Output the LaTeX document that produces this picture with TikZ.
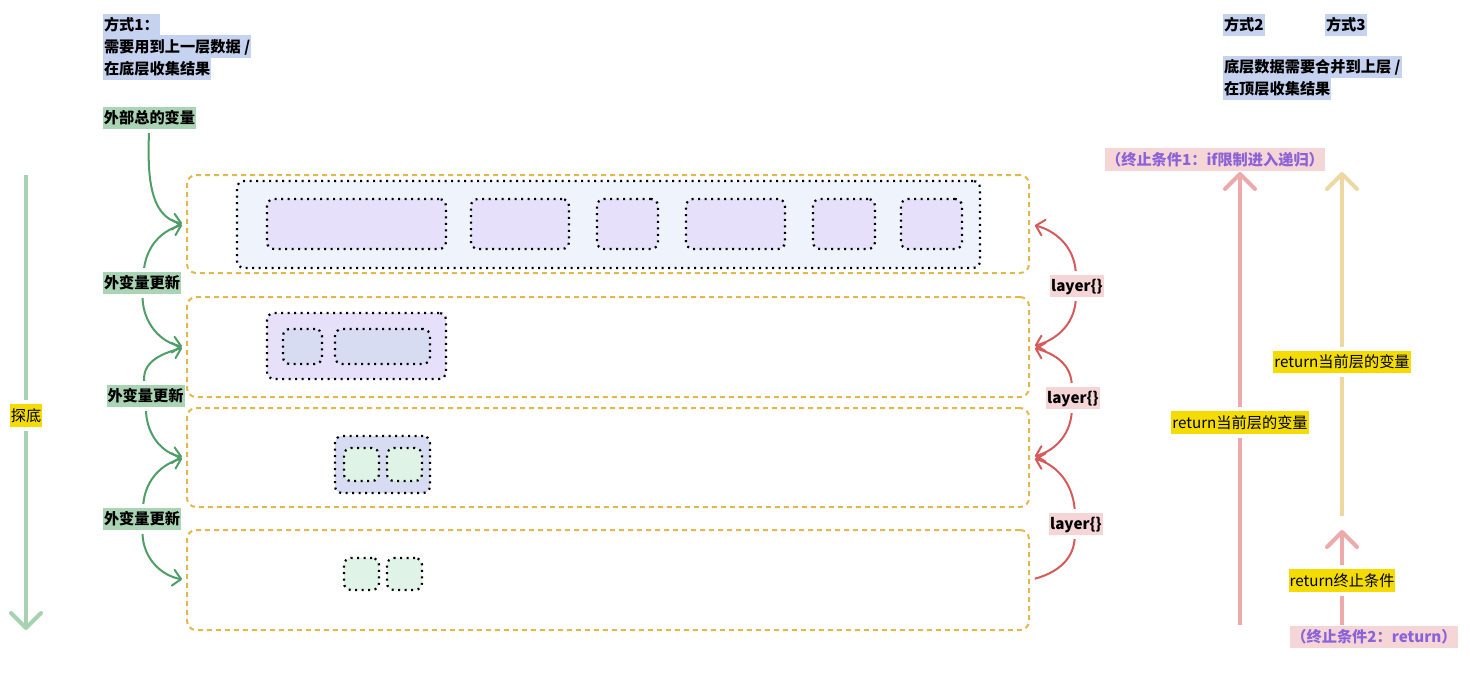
\documentclass[tikz,border=0pt]{standalone}
\usepackage{fontspec}
\setmainfont{Noto Sans CJK SC}
\usetikzlibrary{arrows.meta,positioning}
\definecolor{bluebg}{HTML}{C6D3F0}
\definecolor{greenbg}{HTML}{A9D5B5}
\definecolor{yellowbg}{HTML}{F4DC00}
\definecolor{pinkbg}{HTML}{F6D5D7}
\definecolor{purpletx}{HTML}{8A63D8}
\definecolor{framec}{HTML}{E1B84B}
\definecolor{topfill}{HTML}{EFF3FB}
\definecolor{lavfill}{HTML}{E7E0FA}
\definecolor{bluefill}{HTML}{D7DCF3}
\definecolor{greenfill}{HTML}{DFF3E6}
\definecolor{greenln}{HTML}{4F9E68}
\definecolor{redln}{HTML}{D65A5A}
\definecolor{paleg}{HTML}{A6D2B0}
\definecolor{palep}{HTML}{EDAAAA}
\definecolor{paley}{HTML}{ECD8A0}

\begin{document}
\begin{tikzpicture}[x=1pt, y=-1pt, >={Straight Barb[round,length=8pt,width=16pt]},
  every node/.style={font=\fontsize{15.2pt}{18pt}\selectfont\bfseries, inner xsep=1pt, inner ysep=4pt, text height=12.8pt, text depth=1.4pt},
  note/.style={fill=bluebg, anchor=west, outer sep=0pt},
  tag/.style={fill=greenbg, outer sep=4pt},
  ret/.style={fill=pinkbg, outer sep=4pt},
  hilite/.style={fill=yellowbg, outer sep=4pt, font=\fontsize{15.2pt}{18pt}\selectfont},
  stop/.style={fill=pinkbg, text=purpletx},
  frame/.style={draw=framec, line width=2pt, dash pattern=on 5pt off 4pt, rounded corners=9pt, minimum width=842pt},
  dots/.style={draw=black, line width=2.2pt, dash pattern=on 2pt off 4.5pt, rounded corners=7pt}]
  \useasboundingbox (0,0) rectangle (1470,675);

  \node[note] (t1) at (103,25) {方式1：};
  \node[note] (t2) at (103,46.5) {需要用到上一层数据 /};
  \node[note] (t3) at (103,68.5) {在底层收集结果};
  \node[note] (m2) at (1223,25) {方式2};
  \node[note] (m3) at (1325,25) {方式3};
  \node[note] (r1) at (1223,67) {底层数据需要合并到上层 /};
  \node[note] (r2) at (1223,89) {在顶层收集结果};

  \node[frame, minimum height=98pt] (l1) at (608,224) {};
  \node[frame, minimum height=100pt] (l2) at (608,347) {};
  \node[frame, minimum height=99pt] (l3) at (608,457.5) {};
  \node[frame, minimum height=100pt] (l4) at (608,580) {};

  \begin{scope}[every node/.append style={dots}]
    \node[fill=topfill, minimum width=743pt, minimum height=87pt] (o1) at (608.5,224.5) {};
    \node[fill=lavfill, minimum width=179pt, minimum height=50pt] (a1) at (356.5,224) {};
    \node[fill=lavfill, minimum width=98pt, minimum height=50pt] (a2) at (520,224) {};
    \node[fill=lavfill, minimum width=61pt, minimum height=50pt] (a3) at (627.5,224) {};
    \node[fill=lavfill, minimum width=99pt, minimum height=50pt] (a4) at (735.5,224) {};
    \node[fill=lavfill, minimum width=62pt, minimum height=50pt] (a5) at (844,224) {};
    \node[fill=lavfill, minimum width=61pt, minimum height=50pt] (a6) at (931.5,224) {};
    \node[fill=lavfill, minimum width=179pt, minimum height=66pt] (o2) at (356.5,346) {};
    \node[fill=bluefill, minimum width=39pt, minimum height=35pt] (b1) at (302.5,346.5) {};
    \node[fill=bluefill, minimum width=95pt, minimum height=35pt] (b2) at (382.5,346.5) {};
    \node[fill=bluefill, minimum width=95pt, minimum height=57pt] (o3) at (382.5,464.5) {};
    \node[fill=greenfill, minimum width=35pt, minimum height=33pt] (c1) at (361.5,464.5) {};
    \node[fill=greenfill, minimum width=35pt, minimum height=33pt] (c2) at (404.5,464.5) {};
    \node[fill=greenfill, minimum width=35pt, minimum height=32pt] (d1) at (361.5,574) {};
    \node[fill=greenfill, minimum width=35pt, minimum height=32pt] (d2) at (404.5,574) {};
  \end{scope}

  \node[tag] (ext) at (149.5,118) {外部总的变量};
  \node[tag] (u1) at (142,283) {外变量更新};
  \node[tag] (u2) at (145.5,396) {外变量更新};
  \node[tag] (u3) at (142,519) {外变量更新};
  \node[ret] (y1) at (1077,286) {layer\{\}};
  \node[ret] (y2) at (1073,398) {layer\{\}};
  \node[ret] (y3) at (1076,524) {layer\{\}};

  \node[hilite] (probe) at (26,415.5) {探底};
  \node[hilite] (ret1) at (1240,422.5) {return当前层的变量};
  \node[hilite] (ret2) at (1342,362) {return当前层的变量};
  \node[hilite] (retc) at (1342,580.5) {return终止条件};
  \node[stop] (term1) at (1215,159.5) {（终止条件1：if限制进入递归）};
  \node[stop] (term2) at (1374,637) {（终止条件2：return）};

  \coordinate (gtop) at (26,175);
  \coordinate (gbot) at (26,630);
  \coordinate (pbot) at (1240,625);
  \coordinate (ptop) at (1240,172);
  \coordinate (ybot) at (1342,516);
  \coordinate (ytop) at (1342,172);
  \coordinate (sbot) at (1342,625);
  \coordinate (stip) at (1342,530);

  \begin{scope}[line width=4pt, -{Straight Barb[round,length=15pt,width=30pt]}]
    \draw[paleg] (gtop) -- (probe) -- (gbot);
    \draw[palep] (pbot) -- (ret1) -- (ptop);
    \draw[paley] (ybot) -- (ret2) -- (ytop);
    \draw[palep] (sbot) -- (retc) -- (stip);
  \end{scope}

  \begin{scope}[->, shorten >=4pt, line width=2pt, every edge/.style={draw=greenln}]
    \draw (ext) edge[out=-92, in=170] (l1.west);
    \draw (u1) edge[out=82, in=195] (l1.west);
    \draw (u1) edge[out=-88, in=170] (l2.west);
    \draw (u2) edge[out=95, in=195] (l2.west);
    \draw (u2) edge[out=-88, in=170] (l3.west);
    \draw (u3) edge[out=85, in=195] (l3.west);
    \draw (u3) edge[out=-88, in=170] (l4.west);
  \end{scope}

  \begin{scope}[->, shorten >=5pt, line width=2pt, every edge/.style={draw=redln}]
    \draw (y1) edge[out=95, in=-15] (l1.east);
    \draw (y1) edge[out=-95, in=15] (l2.east);
    \draw (y2) edge[out=95, in=-15] (l2.east);
    \draw (y2) edge[out=-95, in=15] (l3.east);
    \draw (y3) edge[out=95, in=-15] (l3.east);
    \draw (y3) edge[-, out=-95, in=15] (l4.east);
  \end{scope}
\end{tikzpicture}
\end{document}
